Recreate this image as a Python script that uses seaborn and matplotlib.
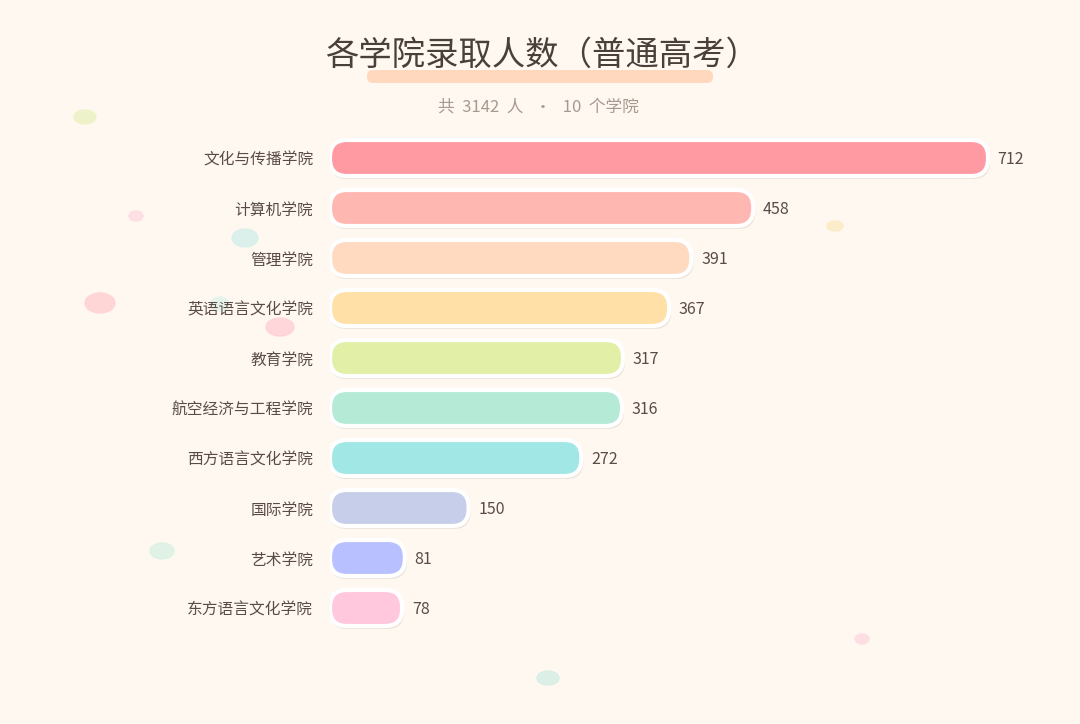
import numpy as np
import pandas as pd
import matplotlib
matplotlib.use("Agg")
import matplotlib.pyplot as plt
import seaborn as sns
from matplotlib.patches import FancyBboxPatch, Ellipse

# --------------------------
# Data
# --------------------------

colleges = [
    "文化与传播学院",
    "计算机学院",
    "管理学院",
    "英语语言文化学院",
    "教育学院",
    "航空经济与工程学院",
    "西方语言文化学院",
    "国际学院",
    "艺术学院",
    "东方语言文化学院",
]
students = [712, 458, 391, 367, 317, 316, 272, 150, 81, 78]

bar_colors = [
    "#FF9AA2", "#FFB7B2", "#FFDAC1", "#FFE1A8", "#E2F0A7",
    "#B5EAD7", "#A0E7E5", "#C7CEEA", "#B8C0FF", "#FFC8DD",
]

title_text = "各学院录取人数（普通高考）"
subtitle_text = f"共  {sum(students)}  人   ·   {len(colleges)}  个学院"

df = pd.DataFrame({"college": colleges, "students": students})

# --------------------------
# Style
# --------------------------

sns.set_theme(style="white")
plt.rcParams["font.family"] = ["Noto Sans CJK SC", "DejaVu Sans"]

BG = "#FFF8F1"
TEXT = "#5A4C44"

W, H = 1080, 724
fig = plt.figure(figsize=(W / 100, H / 100), dpi=100, facecolor=BG)

# background layer in pixel units
bg = fig.add_axes([0, 0, 1, 1], zorder=-1)
bg.set_xlim(0, W)
bg.set_ylim(H, 0)
bg.axis("off")
bg.set_facecolor(BG)

# decorative dots
dots = [
    (85, 117, 22, 14, "#EDF2C6"),
    (136, 216, 14, 10, "#FDDDE2"),
    (245, 238, 26, 18, "#D8F0EA"),
    (100, 303, 30, 20, "#FFD3D3"),
    (280, 327, 28, 18, "#FFD3D8"),
    (220, 304, 18, 14, "#E4F3EC"),
    (162, 551, 24, 16, "#DDF2E4"),
    (548, 678, 22, 14, "#D8EFE6"),
    (862, 639, 14, 10, "#FDDDE2"),
    (835, 226, 16, 10, "#FDEBC6"),
]
for cx, cy, dw, dh, c in dots:
    bg.add_patch(Ellipse((cx, cy), dw, dh, facecolor=c, edgecolor=c,
                         lw=1, alpha=0.9))

# title highlight
bg.add_patch(FancyBboxPatch((367, 70), 346, 13,
                            boxstyle="round,pad=0,rounding_size=6",
                            facecolor="#FFD8BD", edgecolor="none"))
bg.text(W / 2 + 2, 55, title_text, ha="center", va="center",
        fontsize=24, color="#4A403A", fontweight="medium")
bg.text(W / 2 - 2, 107, subtitle_text, ha="center", va="center",
        fontsize=12, color="#A89990")

# --------------------------
# Bar chart
# --------------------------

ax = fig.add_axes([330 / W, 91 / H, 720 / W, 500 / H])
ax.set_facecolor("none")

sns.barplot(
    data=df,
    x="students",
    y="college",
    hue="college",
    palette=bar_colors,
    saturation=1,
    legend=False,
    width=0.72,
    orient="h",
    ax=ax,
)

ax.set_xlim(0, max(students) * 720 / 658)
ax.set_ylim(len(colleges) - 0.5, -0.5)

# aspect for rounded corners (data units per pixel)
fig.canvas.draw()
px_x = (ax.get_xlim()[1] - ax.get_xlim()[0]) / 720
px_y = (len(colleges)) / 500
aspect = px_y / px_x

for patch in list(ax.patches):
    x0, y0 = patch.get_x(), patch.get_y()
    w, h = patch.get_width(), patch.get_height()
    fc = patch.get_facecolor()
    patch.set_visible(False)
    # soft shadow
    ax.add_patch(FancyBboxPatch((x0, y0 + 3 * px_y), w + 2 * px_x, h,
                                boxstyle=f"round,pad=0,rounding_size={17 * px_x}",
                                mutation_aspect=aspect,
                                facecolor="#ECE4DA", edgecolor="none",
                                zorder=1))
    ax.add_patch(FancyBboxPatch((x0, y0), w, h,
                                boxstyle=f"round,pad=0,rounding_size={17 * px_x}",
                                mutation_aspect=aspect,
                                facecolor=fc, edgecolor="white",
                                lw=3, zorder=2))

for i, v in enumerate(students):
    ax.annotate(f"{v}", (v, i + 2 * px_y), xytext=(7, 0),
                textcoords="offset points",
                ha="left", va="center", fontsize=11.5, color=TEXT)

ax.set_xlabel("")
ax.set_ylabel("")
ax.set_xticks([])
ax.tick_params(axis="y", left=False, pad=6, labelsize=11.3,
               labelcolor=TEXT)
sns.despine(ax=ax, left=True, bottom=True)

fig.savefig("out.png", dpi=100, facecolor=BG)
